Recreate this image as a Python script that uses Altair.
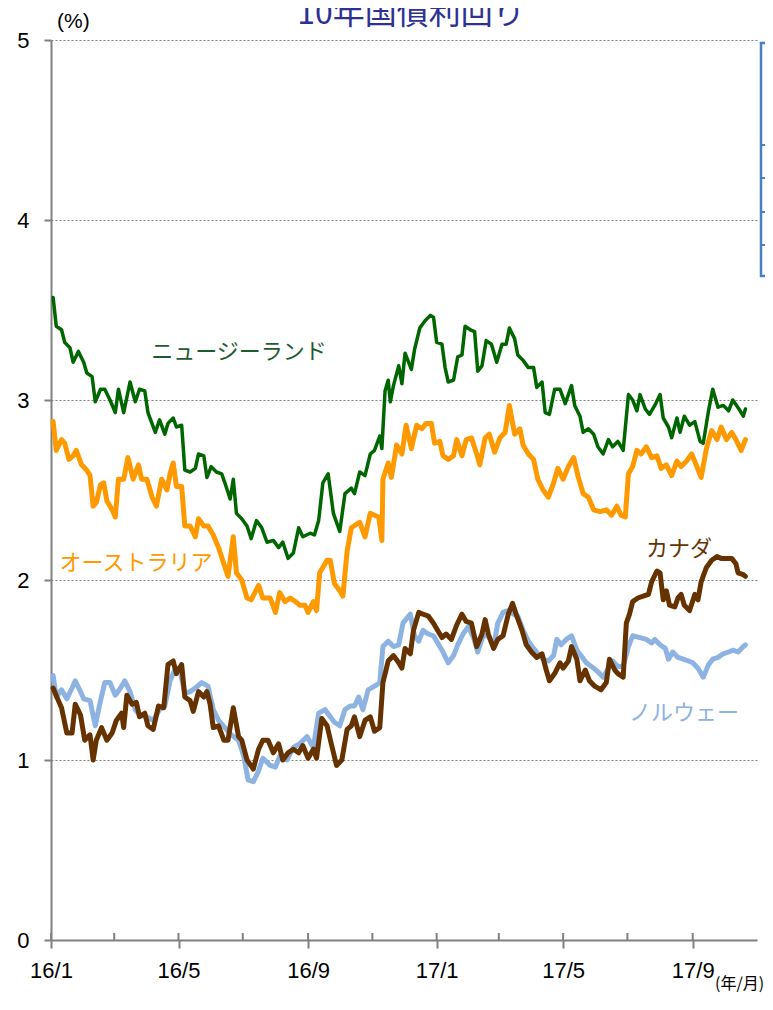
import altair as alt
import pandas as pd

# ---- data (days since 2016-01-01, yield %) ----
nz_days = [2, 5, 10, 13, 18, 21, 26, 31, 34, 39, 42, 47, 51, 56, 61, 64, 69, 75, 80, 84,
           89, 92, 99, 103, 108, 111, 116, 119, 124, 127, 132, 137, 140, 145, 148, 152, 157, 162, 165, 170,
           173, 176, 181, 186, 190, 195, 200, 205, 211, 216, 220, 225, 230, 235, 239, 246, 250, 254, 258, 263,
           268, 274, 279, 285, 288, 293, 298, 303, 307, 312, 314, 317, 320, 322, 325, 330, 333, 336, 342, 345,
           350, 355, 360, 363, 366, 371, 374, 377, 382, 386, 390, 393, 398, 402, 405, 409, 413, 418, 423, 428,
           432, 435, 440, 443, 448, 453, 458, 461, 466, 469, 473, 478, 483, 488, 494, 497, 502, 505, 510, 515,
           519, 524, 529, 533, 538, 543, 548, 552, 556, 559, 564, 568, 573, 578, 581, 586, 589, 594, 597, 601,
           606, 611, 616, 619, 624, 628, 633, 638, 643, 647, 654, 657, 659]
nz_vals = [3.57, 3.41, 3.39, 3.32, 3.29, 3.21, 3.27, 3.21, 3.15, 3.13, 2.99, 3.06, 3.06, 3.00, 2.93, 3.06, 2.93, 3.10, 2.99, 3.06,
           3.05, 2.93, 2.82, 2.89, 2.81, 2.87, 2.90, 2.85, 2.86, 2.61, 2.60, 2.62, 2.70, 2.69, 2.57, 2.63, 2.60, 2.59, 2.54, 2.45,
           2.56, 2.37, 2.34, 2.30, 2.23, 2.33, 2.29, 2.21, 2.22, 2.18, 2.21, 2.12, 2.15, 2.29, 2.24, 2.26, 2.25, 2.33, 2.54, 2.59,
           2.37, 2.27, 2.48, 2.51, 2.48, 2.60, 2.58, 2.70, 2.72, 2.80, 2.73, 3.05, 3.11, 2.99, 3.08, 3.19, 3.09, 3.26, 3.17, 3.28,
           3.40, 3.44, 3.47, 3.46, 3.32, 3.31, 3.18, 3.10, 3.11, 3.24, 3.25, 3.41, 3.39, 3.38, 3.16, 3.19, 3.33, 3.31, 3.21, 3.31,
           3.31, 3.40, 3.34, 3.25, 3.22, 3.18, 3.18, 3.07, 3.10, 2.93, 2.92, 3.06, 3.06, 2.98, 3.08, 2.97, 2.91, 2.82, 2.84, 2.81,
           2.74, 2.70, 2.78, 2.74, 2.77, 2.72, 3.03, 3.00, 2.94, 3.03, 2.95, 2.92, 2.97, 3.03, 2.90, 2.85, 2.79, 2.90, 2.82, 2.91,
           2.86, 2.88, 2.77, 2.76, 2.94, 3.06, 2.96, 2.97, 2.94, 3.00, 2.94, 2.91, 2.95]

au_days = [2, 5, 10, 13, 17, 21, 24, 29, 34, 37, 40, 43, 47, 50, 53, 58, 61, 64, 69, 73,
           78, 83, 86, 91, 96, 100, 105, 110, 113, 116, 119, 124, 127, 132, 137, 140, 145, 149, 154, 159,
           164, 168, 173, 176, 181, 186, 190, 197, 201, 208, 213, 217, 222, 227, 232, 236, 241, 244, 249, 252,
           255, 262, 265, 269, 274, 277, 281, 285, 290, 293, 298, 303, 307, 311, 314, 315, 320, 323, 328, 333,
           337, 342, 347, 352, 356, 361, 364, 369, 372, 377, 382, 385, 390, 394, 399, 404, 407, 412, 416, 421,
           426, 431, 435, 440, 445, 448, 453, 458, 462, 467, 472, 477, 481, 486, 491, 496, 500, 505, 510, 515,
           521, 527, 532, 537, 541, 545, 548, 552, 556, 560, 565, 570, 575, 579, 584, 589, 594, 598, 603, 608,
           613, 617, 622, 627, 632, 636, 641, 646, 650, 655, 659]
au_vals = [2.88, 2.72, 2.78, 2.76, 2.67, 2.69, 2.72, 2.64, 2.61, 2.58, 2.41, 2.43, 2.53, 2.54, 2.44, 2.39, 2.35, 2.56, 2.56, 2.68,
           2.56, 2.64, 2.56, 2.56, 2.46, 2.41, 2.56, 2.50, 2.59, 2.65, 2.52, 2.52, 2.30, 2.30, 2.24, 2.34, 2.30, 2.30, 2.25, 2.18,
           2.09, 2.02, 2.24, 2.04, 2.00, 1.90, 1.89, 1.97, 1.90, 1.90, 1.82, 1.93, 1.88, 1.90, 1.88, 1.86, 1.86, 1.82, 1.88, 1.83,
           2.04, 2.11, 2.11, 1.98, 1.94, 1.91, 2.16, 2.29, 2.31, 2.32, 2.24, 2.37, 2.36, 2.35, 2.22, 2.56, 2.65, 2.57, 2.75, 2.70,
           2.86, 2.73, 2.86, 2.84, 2.87, 2.87, 2.76, 2.77, 2.69, 2.67, 2.69, 2.78, 2.69, 2.78, 2.79, 2.70, 2.64, 2.79, 2.81, 2.71,
           2.79, 2.82, 2.97, 2.81, 2.84, 2.75, 2.70, 2.67, 2.56, 2.50, 2.46, 2.54, 2.62, 2.56, 2.63, 2.68, 2.58, 2.48, 2.46, 2.39,
           2.38, 2.39, 2.36, 2.41, 2.36, 2.35, 2.59, 2.63, 2.72, 2.70, 2.74, 2.68, 2.69, 2.62, 2.64, 2.58, 2.66, 2.63, 2.66, 2.70,
           2.63, 2.57, 2.73, 2.83, 2.78, 2.85, 2.78, 2.82, 2.78, 2.72, 2.78]

no_days = [2, 5, 10, 15, 20, 23, 28, 31, 37, 42, 47, 51, 56, 61, 66, 70, 75, 80, 84, 91,
           97, 103, 108, 113, 118, 122, 127, 132, 137, 143, 149, 154, 159, 165, 171, 178, 183, 187, 192, 197,
           201, 208, 213, 217, 224, 230, 236, 243, 249, 254, 260, 265, 269, 274, 279, 284, 288, 292, 296, 301,
           307, 312, 315, 320, 325, 330, 334, 341, 345, 349, 353, 358, 363, 367, 372, 377, 382, 386, 391, 396,
           401, 405, 410, 415, 420, 424, 429, 434, 439, 443, 448, 453, 458, 462, 467, 472, 477, 480, 484, 489,
           494, 499, 503, 508, 515, 519, 524, 529, 533, 538, 543, 548, 552, 559, 565, 570, 573, 578, 583, 586,
           590, 595, 600, 605, 609, 614, 619, 624, 628, 633, 638, 643, 647, 652, 657, 659]
no_vals = [1.47, 1.35, 1.39, 1.34, 1.40, 1.44, 1.38, 1.34, 1.33, 1.19, 1.33, 1.43, 1.43, 1.36, 1.40, 1.44, 1.38, 1.28, 1.25, 1.24,
           1.22, 1.28, 1.30, 1.44, 1.51, 1.51, 1.37, 1.38, 1.40, 1.43, 1.41, 1.28, 1.22, 1.18, 1.14, 1.11, 1.02, 0.89, 0.88, 0.94,
           1.01, 0.97, 0.96, 1.02, 1.00, 1.07, 1.09, 1.13, 1.07, 1.26, 1.28, 1.24, 1.21, 1.19, 1.28, 1.30, 1.30, 1.35, 1.28, 1.39,
           1.41, 1.43, 1.63, 1.66, 1.63, 1.64, 1.76, 1.81, 1.69, 1.66, 1.72, 1.70, 1.69, 1.65, 1.60, 1.54, 1.58, 1.64, 1.70, 1.74,
           1.68, 1.60, 1.69, 1.69, 1.63, 1.76, 1.82, 1.83, 1.81, 1.80, 1.72, 1.66, 1.62, 1.59, 1.56, 1.55, 1.58, 1.67, 1.64, 1.67,
           1.69, 1.61, 1.58, 1.54, 1.51, 1.49, 1.46, 1.51, 1.55, 1.52, 1.52, 1.63, 1.69, 1.68, 1.67, 1.65, 1.67, 1.64, 1.62, 1.56,
           1.60, 1.57, 1.56, 1.55, 1.54, 1.51, 1.46, 1.53, 1.56, 1.57, 1.59, 1.60, 1.61, 1.60, 1.63, 1.64]

ca_days = [2, 7, 10, 15, 20, 23, 28, 32, 37, 40, 43, 48, 53, 58, 62, 67, 69, 72, 77, 81,
           84, 89, 92, 97, 102, 107, 111, 116, 119, 124, 127, 132, 135, 140, 145, 148, 151, 154, 159, 164,
           168, 173, 178, 181, 186, 192, 197, 201, 206, 211, 216, 220, 225, 230, 235, 239, 244, 249, 252, 257,
           262, 266, 271, 276, 281, 285, 288, 293, 298, 303, 307, 312, 315, 320, 325, 330, 333, 336, 341, 344,
           349, 353, 358, 363, 367, 371, 375, 380, 385, 390, 394, 399, 404, 409, 412, 415, 420, 424, 429, 434,
           438, 442, 447, 451, 456, 461, 466, 470, 473, 478, 483, 486, 491, 494, 499, 502, 507, 511, 516, 522,
           527, 530, 535, 538, 543, 546, 549, 552, 557, 562, 567, 570, 575, 578, 581, 584, 587, 592, 595, 598,
           601, 606, 611, 614, 617, 622, 627, 632, 636, 641, 646, 650, 652, 657, 659]
ca_vals = [1.40, 1.33, 1.29, 1.15, 1.15, 1.31, 1.25, 1.11, 1.14, 1.00, 1.11, 1.18, 1.11, 1.15, 1.22, 1.26, 1.18, 1.36, 1.31, 1.32,
           1.24, 1.26, 1.19, 1.17, 1.30, 1.29, 1.53, 1.55, 1.48, 1.53, 1.35, 1.33, 1.27, 1.38, 1.35, 1.38, 1.31, 1.18, 1.19, 1.11,
           1.11, 1.29, 1.13, 1.11, 1.00, 0.95, 1.06, 1.11, 1.11, 1.04, 1.09, 1.00, 1.04, 1.06, 1.04, 1.08, 1.01, 1.06, 1.01, 1.23,
           1.19, 1.09, 0.97, 1.00, 1.17, 1.19, 1.24, 1.13, 1.22, 1.24, 1.16, 1.18, 1.43, 1.55, 1.58, 1.54, 1.51, 1.62, 1.59, 1.72,
           1.82, 1.81, 1.80, 1.76, 1.72, 1.68, 1.70, 1.67, 1.75, 1.81, 1.77, 1.76, 1.63, 1.70, 1.78, 1.70, 1.62, 1.67, 1.69, 1.81,
           1.87, 1.80, 1.72, 1.64, 1.60, 1.57, 1.59, 1.50, 1.44, 1.48, 1.54, 1.51, 1.55, 1.63, 1.56, 1.44, 1.50, 1.44, 1.41, 1.39,
           1.43, 1.56, 1.50, 1.48, 1.46, 1.76, 1.81, 1.88, 1.90, 1.91, 1.92, 1.99, 2.05, 2.04, 1.89, 1.94, 1.86, 1.85, 1.90, 1.92,
           1.86, 1.83, 1.92, 1.89, 1.99, 2.07, 2.11, 2.13, 2.12, 2.12, 2.12, 2.09, 2.04, 2.03, 2.02]

series_names = ["ニュージーランド", "オーストラリア", "ノルウェー", "カナダ"]
series_colors = ["#006600", "#FF9900", "#8DB3E2", "#663300"]
series_widths = [3.5, 5, 5, 5]
series_days = [nz_days, au_days, no_days, ca_days]
series_vals = [nz_vals, au_vals, no_vals, ca_vals]

major_ticks = ["2016-01-01", "2016-05-01", "2016-09-01", "2017-01-01", "2017-05-01", "2017-09-01"]
minor_ticks = ["2016-01-01", "2016-03-01", "2016-05-01", "2016-07-01", "2016-09-01", "2016-11-01",
               "2017-01-01", "2017-03-01", "2017-05-01", "2017-07-01", "2017-09-01"]
y_ticks = [0, 1, 2, 3, 4, 5]

title_text = "10年国債利回り"
unit_y = "(%)"
unit_x = "(年/月)"

BASE = pd.Timestamp("2016-01-01")
W, H = 706, 900
GRAY = "#808080"
NUMFONT = "Liberation Sans"
JPFONT = "Noto Sans CJK JP"


def dt(s):
    t = pd.Timestamp(s)
    return alt.DateTime(year=t.year, month=t.month, date=t.day)


x_scale = alt.Scale(domain=[dt("2016-01-01"), dt("2017-11-01")])
y_scale = alt.Scale(domain=[0, 5], nice=False, zero=False)

x_axis = alt.Axis(values=[dt(s) for s in major_ticks], format="%y/%-m", title=None,
                  labelFontSize=22, labelFont=NUMFONT, labelColor="black", labelPadding=12,
                  tickSize=8, tickWidth=2, tickColor=GRAY, domainColor=GRAY, domainWidth=2,
                  grid=False, labelFlush=False)
y_axis = alt.Axis(values=y_ticks, format="d", title=None,
                  labelFontSize=22, labelFont=NUMFONT, labelColor="black", labelPadding=15,
                  tickSize=7, tickWidth=2, tickColor=GRAY, domainColor=GRAY, domainWidth=2,
                  grid=True, gridColor=GRAY, gridDash=[2, 2], gridWidth=1.2,
                  gridOpacity=alt.condition("datum.value == 0", alt.value(0), alt.value(1)))

X_ENC = alt.X("date:T", scale=x_scale, axis=x_axis)

layers = []
for name, color, sw, days, vals in zip(series_names, series_colors, series_widths,
                                       series_days, series_vals):
    df = pd.DataFrame({
        "date": BASE + pd.to_timedelta(days, unit="D"),
        "value": vals,
    })
    layers.append(
        alt.Chart(df).mark_line(color=color, strokeWidth=sw, strokeJoin="round", strokeCap="round").encode(
            x=X_ENC,
            y=alt.Y("value:Q", scale=y_scale, axis=y_axis),
        )
    )

# inward minor ticks on the x axis
tick_df = pd.DataFrame({"date": pd.to_datetime(minor_ticks)})
ticks = alt.Chart(tick_df).mark_rule(color=GRAY, strokeWidth=2).encode(
    x=X_ENC,
    y=alt.value(H), y2=alt.value(H - 7),
)

# series labels
label_pos = [(188, 312), (85, 523), (633, 673), (628, 509)]
label_colors = ["#1E5A32", "#FF9900", "#8DB3E2", "#663300"]
label_layers = []
for name, (px, py), c in zip(series_names, label_pos, label_colors):
    label_layers.append(
        alt.Chart(pd.DataFrame({"t": [name]})).mark_text(
            font=JPFONT, fontSize=22, color=c, align="center", baseline="middle"
        ).encode(x=alt.value(px), y=alt.value(py), text="t:N")
    )

title = alt.Chart(pd.DataFrame({"t": [title_text]})).mark_text(
    font=JPFONT, fontSize=32, color="#2E3192", align="center", baseline="alphabetic"
).encode(x=alt.value(360), y=alt.value(-16), text="t:N")

ylab = alt.Chart(pd.DataFrame({"t": [unit_y]})).mark_text(
    font=NUMFONT, fontSize=21, color="black", align="left", baseline="middle"
).encode(x=alt.value(6), y=alt.value(-18), text="t:N")

xlab = alt.Chart(pd.DataFrame({"t": [unit_x]})).mark_text(
    font=JPFONT, fontSize=16, color="black", align="left", baseline="middle"
).encode(x=alt.value(664), y=alt.value(944), text="t:N")

# partially visible table box at the right edge
box = alt.Chart(pd.DataFrame({"t": [""]})).mark_rect(
    fill="white", stroke="#4A7EC8", strokeWidth=2.5
).encode(x=alt.value(710), x2=alt.value(780), y=alt.value(3), y2=alt.value(236))

box_lines = []
for yy in [105, 138, 172, 205]:
    box_lines.append(
        alt.Chart(pd.DataFrame({"t": [""]})).mark_rule(color="#4A7EC8", strokeWidth=2).encode(
            x=alt.value(710), x2=alt.value(780), y=alt.value(yy)
        )
    )

chart = alt.layer(*layers, ticks, *label_layers, title, ylab, xlab, box, *box_lines).properties(
    width=W, height=H,
    autosize=alt.AutoSizeParams(type="none"),
    padding={"left": 43, "top": 32, "right": 8, "bottom": 56},
).configure_view(stroke="transparent")

chart.save("out.html", embed_options={"renderer": "svg", "actions": False})
